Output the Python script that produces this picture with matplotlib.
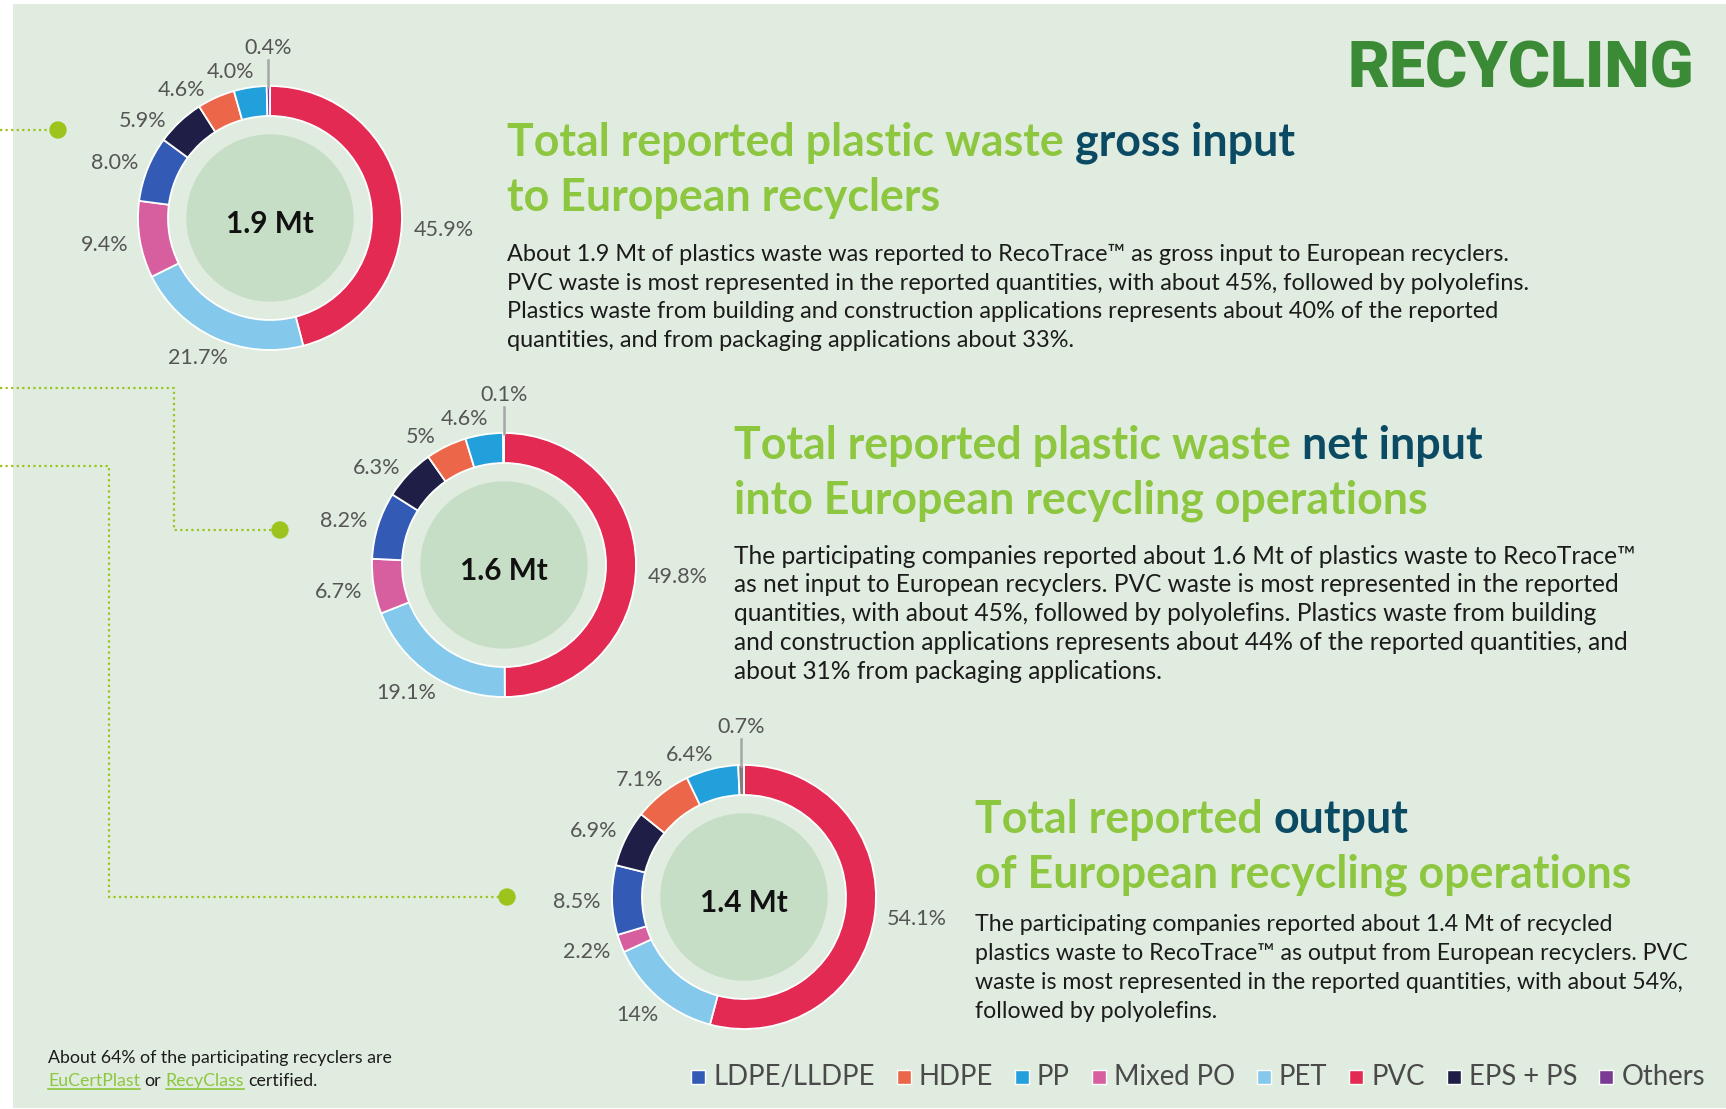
import matplotlib
matplotlib.use("Agg")
import matplotlib.pyplot as plt
from matplotlib.patches import Circle, Rectangle
import numpy as np

plt.rcParams['font.family'] = ['Lato', 'DejaVu Sans']

# ---- data (share of reported quantities, %) ----
materials = ["PVC", "PET", "Mixed PO", "LDPE/LLDPE", "EPS + PS", "HDPE", "PP", "Others"]
gross_input = [45.9, 21.7, 9.4, 8.0, 5.9, 4.6, 4.0, 0.4]
net_input = [49.8, 19.1, 6.7, 8.2, 6.3, 5, 4.6, 0.1]
recycled_output = [54.1, 14, 2.2, 8.5, 6.9, 7.1, 6.4, 0.7]
totals = ["1.9 Mt", "1.6 Mt", "1.4 Mt"]
legend_order = ["LDPE/LLDPE", "HDPE", "PP", "Mixed PO", "PET", "PVC", "EPS + PS", "Others"]

colors = {
    "PVC": "#e32a52", "PET": "#84c9eb", "Mixed PO": "#d75f9f", "LDPE/LLDPE": "#335bb5",
    "EPS + PS": "#1e1e46", "HDPE": "#ec674a", "PP": "#22a0dc", "Others": "#7b3a93",
}

headings = [
    [("Total reported plastic waste", "g"), ("gross input", "d")],
    [("to European recyclers", "g")],
    [("Total reported plastic waste", "g"), ("net input", "d")],
    [("into European recycling operations", "g")],
    [("Total reported", "g"), ("output", "d")],
    [("of European recycling operations", "g")],
]
text1 = ["About 1.9 Mt of plastics waste was reported to RecoTrace\u2122 as gross input to European recyclers.",
         "PVC waste is most represented in the reported quantities, with about 45%, followed by polyolefins.",
         "Plastics waste from building and construction applications represents about 40% of the reported",
         "quantities, and from packaging applications about 33%."]
text2 = ["The participating companies reported about 1.6 Mt of plastics waste to RecoTrace\u2122",
         "as net input to European recyclers. PVC waste is most represented in the reported",
         "quantities, with about 45%, followed by polyolefins. Plastics waste from building",
         "and construction applications represents about 44% of the reported quantities, and",
         "about 31% from packaging applications."]
text3 = ["The participating companies reported about 1.4 Mt of recycled",
         "plastics waste to RecoTrace\u2122 as output from European recyclers. PVC",
         "waste is most represented in the reported quantities, with about 54%,",
         "followed by polyolefins."]

W, H = 1726, 1109
GREEN = "#8dc63f"
TEAL = "#0b4a63"
DARK = "#1b1b1b"
LABEL = "#555555"
tone = {"g": GREEN, "d": TEAL}

fig = plt.figure(figsize=(W / 100, H / 100), dpi=100, facecolor="white")
ax = fig.add_axes([0, 0, 1, 1])
r = fig.canvas.get_renderer()


def Y(y):
    return H - y


def width_of(t):
    return t.get_window_extent(renderer=r).width


def measure(txt, size, weight="normal", family=None):
    t = ax.text(0, 0, txt, fontsize=size, fontweight=weight)
    if family:
        t.set_family(family)
    w = width_of(t)
    t.remove()
    return w


def fit(txt, target, weight="normal", family=None):
    return 10 * target / measure(txt, 10, weight, family)


def run(x, y, segs, size, weight="normal"):
    sw = measure("a a", size, weight) - measure("aa", size, weight)
    for txt, col, *ul in segs:
        t = ax.text(x, Y(y), txt, fontsize=size, fontweight=weight, color=col, va="baseline", zorder=5)
        w = width_of(t)
        if ul and ul[0]:
            ax.plot([x, x + w], [Y(y) - 3, Y(y) - 3], color=col, lw=1.2)
        x += w + sw


# background panel
ax.add_patch(Rectangle((13, Y(1108)), W - 13, 1104, facecolor="#e1ece1", edgecolor="none", zorder=0))

# dotted connectors
dot_green = "#9dc41c"
connectors = [([0, 58], [130, 130]), ([0, 174, 174, 280], [388, 388, 530, 530]),
              ([0, 109, 109, 507], [466, 466, 897, 897])]
for xs, ys in connectors:
    ax.plot(xs, [Y(v) for v in ys], color=dot_green, lw=1.6, linestyle=(0, (1, 1.5)), zorder=1)
    ax.add_patch(Circle((xs[-1], Y(ys[-1])), 8, color=dot_green, zorder=2))

# donuts
R, RW, RC = 132, 30, 83
center_size = fit("1.9 Mt", 88, "bold")
LS = 15.5  # label font size


def donut(cx, cy, values, total, others_col):
    cols = [colors[m] for m in materials]
    cols[-1] = others_col
    wedges, _ = ax.pie(values, colors=cols, center=(cx, Y(cy)), radius=R, startangle=90,
                       counterclock=False, frame=True,
                       wedgeprops=dict(width=RW, edgecolor="white", linewidth=1.3))
    ax.add_patch(Circle((cx, Y(cy)), RC, color="#c7dec6", zorder=3))
    ax.text(cx, Y(cy + 15), total, ha="center", va="baseline", fontsize=center_size,
            fontweight="bold", color="#111111", zorder=4)

    # label angles: mid angle of each wedge, spread apart near the top
    mids = [((w.theta1 + w.theta2) / 2) % 360 for w in wedges]
    mids = [m - 360 if m > 270 else m for m in mids]
    ang = list(mids)
    ang[0] = min(mids[0], -4)
    n = len(values) - 1
    ang[n - 1] = mids[n - 1] + 5
    for i in range(n - 2, 1, -1):
        ang[i] = max(mids[i], ang[i + 1] + 18)
    for i in range(n):
        a = np.deg2rad(ang[i])
        lab = f"{values[i]}%"
        w = measure(lab, LS)
        x = cx + (R + 12) * np.cos(a) + w / 2 * np.cos(a)
        y = Y(cy) + (R + 12) * np.sin(a) + 8 * np.sin(a)
        ax.text(x, y - LS / 2, lab, ha="center", va="baseline", fontsize=LS, color=LABEL)

    a = np.deg2rad(mids[-1])
    x = cx + (R - 2) * np.cos(a)
    ax.plot([x, x], [Y(cy) + R - 1, Y(cy) + R + 26], color="#a6a6a6", lw=1.8, zorder=2)
    ax.text(x, Y(cy) + R + 40 - LS / 2, f"{values[-1]}%", ha="center", va="baseline",
            fontsize=LS, color=LABEL)


donut(270, 218, gross_input, totals[0], colors["Others"])
donut(504, 565, net_input, totals[1], colors["Others"])
donut(744, 897, recycled_output, totals[2], "#7f7f7f")

# title
title_font = ["Roboto", "Lato", "DejaVu Sans"]
ax.text(1347, Y(88), "RECYCLING", fontsize=fit("RECYCLING", 345, "black", title_font),
        fontweight="black", family=title_font, color="#3b8a35", va="baseline")

# headings
hsize = fit("Total reported plastic waste gross input", 790, "bold")
heading_pos = [(507, 156), (507, 211), (734, 459), (734, 513), (975, 833), (975, 888)]
for (hx, hy), segs in zip(heading_pos, headings):
    run(hx, hy, [(t, tone[c]) for t, c in segs], hsize, "bold")

# paragraphs
for bx, ys, lines, target in [(507, [261, 290, 318, 347], text1, 1005),
                              (734, [564, 592, 621, 650, 679], text2, 906),
                              (975, [931, 960, 989, 1018], text3, 638)]:
    bsize = fit(lines[0], target)
    for yy, line in zip(ys, lines):
        ax.text(bx, Y(yy), line, fontsize=bsize, color=DARK, va="baseline")

# footnote
fsize = fit("About 64% of the participating recyclers are", 344)
run(48, 1063, [("About 64% of the participating recyclers are", DARK)], fsize)
run(48, 1086, [("EuCertPlast", GREEN, True), ("or", DARK), ("RecyClass", GREEN, True),
               ("certified.", DARK)], fsize)

# legend
lx = 691
for m in legend_order:
    ax.add_patch(Rectangle((lx, Y(1077) - 7), 14, 14, facecolor=colors[m], edgecolor="white", lw=1))
    t = ax.text(lx + 22, Y(1077), m, fontsize=19.8, color="#4a4a4a", va="center")
    lx += 22 + width_of(t) + 22

ax.set_xlim(0, W)
ax.set_ylim(0, H)
ax.set_aspect("auto")
ax.axis("off")
fig.savefig("out.png", dpi=100, facecolor="white")
